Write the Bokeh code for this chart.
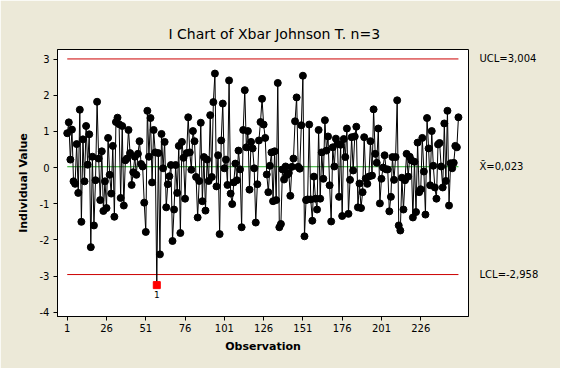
from bokeh.plotting import figure
from bokeh.models import LinearAxis, FixedTicker, Range1d
from bokeh.embed import file_html
from bokeh.resources import INLINE
from bokeh.core.properties import value

title_text = "I Chart of Xbar Johnson T. n=3"
x_label = "Observation"
y_label = "Individual Value"

vals_001_025 = [0.95, 1.25, 0.22, 1.05, -0.38, -0.45, 0.65, -0.70, 1.60, -1.50,
                0.78, -0.38, 1.15, 0.08, 0.92, -2.20, 0.30, -1.60, -0.35, 1.82,
                0.25, -0.90, 0.45, -1.20, -0.38]
vals_026_052 = [-1.12, 0.82, -0.20, -0.72, 0.60, -1.36, 1.26, 1.38, 1.20, -0.84,
                1.15, -1.05, 0.20, 0.25, 1.04, 0.40, -0.48, -0.13, 0.30, -0.20,
                0.38, 0.73, 0.10, 0.03, -0.97, -1.78, 1.57]
vals_053_079 = [0.30, 1.37, -0.41, 1.04, 0.42, -3.25, 0.40, -2.40, 0.93, -0.02,
                0.71, -1.10, -0.46, -0.24, 0.07, -2.03, -1.16, 0.07, -0.70, 0.60,
                -1.81, 0.71, 0.27, -0.86, 0.40, 1.39, 0.42]
vals_080_106 = [-0.06, 1.01, 0.73, -0.26, -1.38, -0.37, 1.24, -0.93, 0.29, -1.19,
                0.22, -0.37, 1.45, -0.26, 1.81, 2.60, -0.52, 0.34, -1.84, 0.75,
                1.77, -0.02, 0.22, -0.48, 2.41, -0.72, -1.01]
vals_107_133 = [-0.41, 0.11, -0.35, 0.47, -0.05, -1.65, 1.04, 2.14, 0.56, 1.01,
                -0.61, 0.71, 0.53, -0.02, -1.52, -0.46, 0.75, 1.26, 1.90, 1.19,
                0.82, -0.19, -0.68, 0.05, 0.42, -0.93, 0.45]
vals_134_160 = [-0.90, 2.34, -1.65, -1.56, -0.05, -0.33, 0.03, -0.20, -0.15, -0.78,
                0.02, 0.25, 1.28, 1.94, 0.02, -0.03, 1.17, 2.54, -1.90, -0.90,
                -0.88, 1.19, -0.88, -1.47, -0.25, -0.86, -1.16]
vals_161_190 = [1.04, -0.86, 0.42, -0.31, 1.31, 0.47, 0.86, -0.49, -1.49, 0.56,
                0.03, 0.80, 0.66, -0.81, 0.63, -1.34, 0.79, 0.29, 1.08, -1.28,
                -0.34, 0.84, -0.08, 0.86, 1.13, -1.10, -0.44, -1.12, -0.68, 0.84]
vals_191_216 = [-0.30, -0.45, -0.25, 0.73, -0.22, 1.61, 0.38, 0.13, 1.08, -0.99,
                -0.31, 0.00, 0.34, -0.05, -0.05, -1.21, -0.81, 0.29, -0.34, 0.29,
                1.86, -1.60, -1.74, -0.28, -1.16, -0.35]
vals_217_240 = [0.38, -0.25, 0.30, 0.20, -1.38, 0.16, -1.23, 0.69, -0.68, -0.60,
                0.82, -0.11, -1.30, 1.37, 0.53, -0.49, 1.01, 0.05, -0.55, -0.86,
                0.64, 0.68, 0.03, -0.55]
vals_241_250 = [1.22, -0.37, 1.57, -1.05, 0.12, -0.02, 0.13, 0.60, 0.56, 1.39]

ucl = 3.004
center = 0.023
lcl = -2.958
limit_labels = ["UCL=3,004", "X\u0304=0,023", "LCL=-2,958"]

ooc_obs = [58]
ooc_labels = ["1"]

x_ticks = [1, 26, 51, 76, 101, 126, 151, 176, 201, 226]
y_ticks = [3, 2, 1, 0, -1, -2, -3, -4]

values = (vals_001_025 + vals_026_052 + vals_053_079 + vals_080_106 + vals_107_133
          + vals_134_160 + vals_161_190 + vals_191_216 + vals_217_240 + vals_241_250)
obs = list(range(1, len(values) + 1))

normal_x = [o for o in obs if o not in ooc_obs]
normal_y = [values[o - 1] for o in normal_x]
ooc_y = [values[o - 1] for o in ooc_obs]

FONT = "DejaVu Sans"
BG = "#ECE9D8"

p = figure(width=560, height=368, output_backend="svg", toolbar_location=None,
           x_range=Range1d(-5.2, 256.4), y_range=Range1d(-4.118, 3.265),
           min_border_left=57, min_border_right=92, min_border_top=49, min_border_bottom=52,
           background_fill_color="white", border_fill_color=BG)

p.title.text = title_text
p.title.text_font = FONT
p.title.text_font_size = "14px"
p.title.text_font_style = "normal"
p.title.text_color = "black"
p.title.align = "left"
p.title.offset = 111
p.title.standoff = 16

p.outline_line_color = "black"
p.outline_line_width = 1
p.grid.visible = False

# control lines
p.line([obs[0], obs[-1]], [ucl, ucl], line_color="#CC0000", line_width=1)
p.line([obs[0], obs[-1]], [lcl, lcl], line_color="#CC0000", line_width=1)
p.line([obs[0], obs[-1]], [center, center], line_color="#22AA22", line_width=1)

# data
p.line(obs, values, line_color="black", line_width=1)
p.scatter(normal_x, normal_y, size=7, marker="circle", fill_color="black", line_color="black")
p.scatter(ooc_obs, ooc_y, size=7, marker="square", fill_color="#FF0000", line_color="#FF0000")
p.text(ooc_obs, ooc_y, text=ooc_labels, text_font=value(FONT), text_font_size="9px",
       text_align="center", text_baseline="top", y_offset=6, text_color="black")

# axes
xa = p.xaxis[0]
xa.ticker = FixedTicker(ticks=x_ticks)
xa.axis_label = x_label
ya = p.yaxis[0]
ya.ticker = FixedTicker(ticks=y_ticks)
ya.major_label_overrides = {t: str(t) for t in y_ticks}
ya.axis_label = y_label
for ax in (xa, ya):
    ax.minor_tick_line_color = None
    ax.major_tick_in = 0
    ax.major_tick_out = 4
    ax.major_tick_line_color = "black"
    ax.axis_line_color = "black"
    ax.major_label_text_font = FONT
    ax.major_label_text_font_size = "10px"
    ax.major_label_text_color = "black"
    ax.axis_label_text_font = FONT
    ax.axis_label_text_font_size = "11px"
    ax.axis_label_text_font_style = "bold"
    ax.axis_label_text_color = "black"
xa.major_label_standoff = 3
xa.axis_label_standoff = 5
ya.major_label_standoff = 4
ya.axis_label_standoff = 7

ra = LinearAxis(ticker=FixedTicker(ticks=[ucl, center, lcl]),
                major_label_overrides={ucl: limit_labels[0], center: limit_labels[1], lcl: limit_labels[2]})
ra.axis_line_color = None
ra.major_tick_line_color = None
ra.minor_tick_line_color = None
ra.major_label_standoff = 5
ra.major_label_text_font = FONT
ra.major_label_text_font_size = "10px"
ra.major_label_text_color = "black"
p.add_layout(ra, "right")

open("out.html", "w").write(file_html(p, INLINE))
